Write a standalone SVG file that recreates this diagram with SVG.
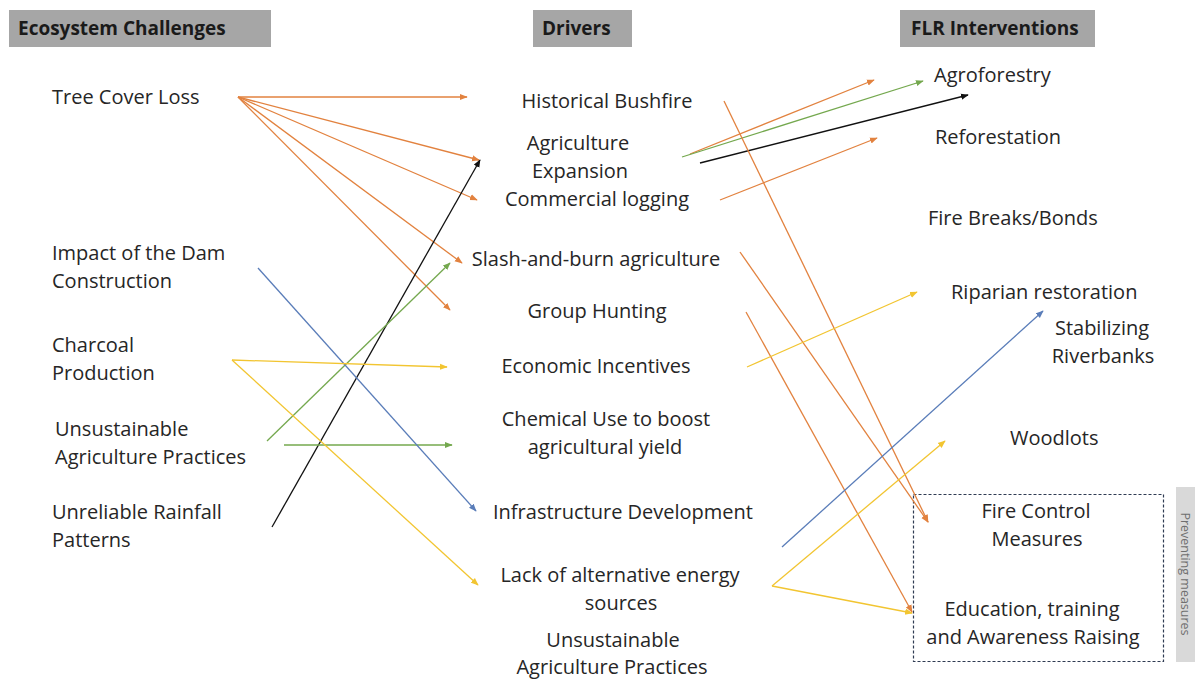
<svg xmlns="http://www.w3.org/2000/svg" width="1195" height="680" viewBox="0 0 1195 680">
<style>
  .t { font-family: "Open Sans", "Noto Sans", sans-serif; font-size: 20px; fill: #262626; }
  .m { text-anchor: middle; }
  .h { font-family: "Open Sans", "Noto Sans", sans-serif; font-size: 19px; font-weight: bold; fill: #1a1a1a; }
  .hb { fill: #a6a6a6; }
  .c { fill: none; stroke-width: 1.3; }
  .or { stroke: #e2823f; marker-end: url(#aOr); }
  .ye { stroke: #f2c531; marker-end: url(#aYe); }
  .gr { stroke: #74a84e; marker-end: url(#aGr); }
  .bl { stroke: #5a7db9; marker-end: url(#aBl); }
  .bk { stroke: #111; marker-end: url(#aBk); }
</style>
<defs>
  <marker id="aOr" viewBox="0 0 10 10" refX="9" refY="5" markerWidth="6" markerHeight="6" orient="auto" markerUnits="strokeWidth"><path d="M0,1 L10,5 L0,9 z" fill="#e2823f"/></marker>
  <marker id="aYe" viewBox="0 0 10 10" refX="9" refY="5" markerWidth="6" markerHeight="6" orient="auto" markerUnits="strokeWidth"><path d="M0,1 L10,5 L0,9 z" fill="#f2c531"/></marker>
  <marker id="aGr" viewBox="0 0 10 10" refX="9" refY="5" markerWidth="6" markerHeight="6" orient="auto" markerUnits="strokeWidth"><path d="M0,1 L10,5 L0,9 z" fill="#74a84e"/></marker>
  <marker id="aBl" viewBox="0 0 10 10" refX="9" refY="5" markerWidth="6" markerHeight="6" orient="auto" markerUnits="strokeWidth"><path d="M0,1 L10,5 L0,9 z" fill="#5a7db9"/></marker>
  <marker id="aBk" viewBox="0 0 10 10" refX="9" refY="5" markerWidth="6" markerHeight="6" orient="auto" markerUnits="strokeWidth"><path d="M0,1 L10,5 L0,9 z" fill="#111"/></marker>
</defs>
<rect width="1195" height="680" fill="#fff"/>

<g id="headers">
  <g id="h-eco"><rect class="hb" x="9" y="10" width="262" height="37"/><text class="h" x="18" y="35">Ecosystem Challenges</text></g>
  <g id="h-drivers"><rect class="hb" x="533" y="10" width="99" height="37"/><text class="h" x="542" y="35">Drivers</text></g>
  <g id="h-flr"><rect class="hb" x="900" y="10" width="195" height="37"/><text class="h" x="911" y="35">FLR Interventions</text></g>
</g>

<g id="challenges">
  <g id="n-tree"><text class="t" x="52" y="104">Tree Cover Loss</text></g>
  <g id="n-dam"><text class="t" x="52" y="260">Impact of the Dam</text><text class="t" x="52" y="288">Construction</text></g>
  <g id="n-charcoal"><text class="t" x="52" y="352">Charcoal</text><text class="t" x="52" y="380">Production</text></g>
  <g id="n-unsust"><text class="t" x="55" y="436">Unsustainable</text><text class="t" x="55" y="464">Agriculture Practices</text></g>
  <g id="n-rain"><text class="t" x="52" y="519">Unreliable Rainfall</text><text class="t" x="52" y="547">Patterns</text></g>
</g>

<g id="drivers">
  <g id="d-bushfire"><text class="t m" x="607" y="108">Historical Bushfire</text></g>
  <g id="d-agri"><text class="t m" x="578" y="150">Agriculture</text><text class="t m" x="580" y="178">Expansion</text></g>
  <g id="d-logging"><text class="t m" x="597" y="206">Commercial logging</text></g>
  <g id="d-slash"><text class="t m" x="596" y="266">Slash-and-burn agriculture</text></g>
  <g id="d-hunting"><text class="t m" x="597" y="318">Group Hunting</text></g>
  <g id="d-econ"><text class="t m" x="596" y="373">Economic Incentives</text></g>
  <g id="d-chem"><text class="t m" x="606" y="426">Chemical Use to boost</text><text class="t m" x="605" y="454">agricultural yield</text></g>
  <g id="d-infra"><text class="t m" x="623" y="519">Infrastructure Development</text></g>
  <g id="d-energy"><text class="t m" x="620" y="582">Lack of alternative energy</text><text class="t m" x="621" y="610">sources</text></g>
  <g id="d-unsust"><text class="t m" x="613" y="647">Unsustainable</text><text class="t m" x="612" y="674">Agriculture Practices</text></g>
</g>

<g id="interventions">
  <g id="i-agro"><text class="t" x="934" y="82">Agroforestry</text></g>
  <g id="i-refor"><text class="t" x="935" y="144">Reforestation</text></g>
  <g id="i-fire"><text class="t" x="928" y="225">Fire Breaks/Bonds</text></g>
  <g id="i-rip"><text class="t" x="951" y="299">Riparian restoration</text></g>
  <g id="i-stab"><text class="t m" x="1102" y="335">Stabilizing</text><text class="t m" x="1103" y="363">Riverbanks</text></g>
  <g id="i-wood"><text class="t" x="1010" y="445">Woodlots</text></g>
  <g id="i-prevent">
    <rect x="913.5" y="494.5" width="250" height="167" fill="none" stroke="#2f3b52" stroke-width="1.2" stroke-dasharray="3,2"/>
    <text class="t m" x="1036" y="518">Fire Control</text><text class="t m" x="1037" y="546">Measures</text>
    <text class="t m" x="1032" y="616">Education, training</text><text class="t m" x="1033" y="644">and Awareness Raising</text>
  </g>
  <g id="i-label">
    <rect x="1176" y="487" width="19" height="175" fill="#d9d9d9"/>
    <text transform="translate(1181,574) rotate(90)" text-anchor="middle" font-family="Open Sans, sans-serif" font-size="12.5" fill="#6f6f6f">Preventing measures</text>
  </g>
</g>

<g id="connectors">
  <line class="c or" x1="238" y1="97" x2="467" y2="97"/>
  <line class="c or" x1="238" y1="97" x2="479" y2="160"/>
  <line class="c or" x1="238" y1="97" x2="477" y2="200"/>
  <line class="c or" x1="238" y1="97" x2="462" y2="263"/>
  <line class="c or" x1="238" y1="97" x2="450" y2="310"/>
  <line class="c bk" x1="272" y1="527" x2="480" y2="160"/>
  <line class="c gr" x1="267" y1="441" x2="450" y2="263"/>
  <line class="c gr" x1="284" y1="445" x2="452" y2="445"/>
  <line class="c bl" x1="258" y1="268" x2="476" y2="511"/>
  <line class="c ye" x1="232" y1="360" x2="447" y2="367"/>
  <line class="c ye" x1="232" y1="360" x2="478" y2="585"/>

  <line class="c or" x1="690" y1="154" x2="874" y2="80"/>
  <line class="c gr" x1="682" y1="157" x2="923" y2="81"/>
  <line class="c bk" x1="700" y1="163" x2="968" y2="95"/>
  <line class="c or" x1="720" y1="200" x2="877" y2="138"/>
  <line class="c or" x1="724" y1="101" x2="928" y2="522"/>
  <line class="c or" x1="740" y1="252" x2="928" y2="522"/>
  <line class="c or" x1="746" y1="312" x2="912" y2="612"/>
  <line class="c ye" x1="747" y1="367" x2="917" y2="292"/>
  <line class="c bl" x1="782" y1="547" x2="1043" y2="311"/>
  <line class="c ye" x1="772" y1="586" x2="945" y2="441"/>
  <line class="c ye" x1="772" y1="586" x2="912" y2="613"/>
</g>
</svg>
